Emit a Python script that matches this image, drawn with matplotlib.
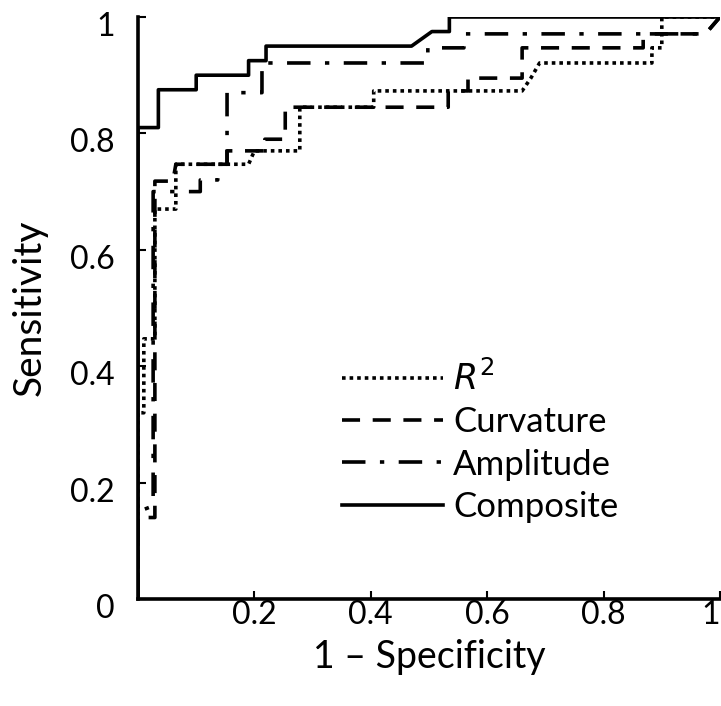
import matplotlib
matplotlib.use("Agg")
import matplotlib.pyplot as plt
from matplotlib.transforms import ScaledTranslation

# ROC curves (1 - specificity, sensitivity)
r2_x = [0, 0, 0.01, 0.01, 0.029, 0.029, 0.065, 0.065, 0.19, 0.2, 0.278, 0.278, 0.405, 0.405,
        0.66, 0.675, 0.69, 0.883, 0.883, 0.9, 0.9, 1]
r2_y = [0, 0.32, 0.32, 0.447, 0.447, 0.67, 0.67, 0.747, 0.747, 0.77, 0.77, 0.845, 0.845, 0.873,
        0.873, 0.895, 0.921, 0.921, 0.947, 0.947, 1, 1]

curv_x = [0, 0, 0.029, 0.029, 0.06, 0.065, 0.153, 0.153, 0.218, 0.218, 0.253, 0.253, 0.533,
          0.533, 0.567, 0.567, 0.66, 0.66, 0.868, 0.868, 0.975, 1]
curv_y = [0, 0.14, 0.14, 0.718, 0.718, 0.747, 0.747, 0.77, 0.77, 0.79, 0.79, 0.845, 0.845,
          0.873, 0.873, 0.895, 0.895, 0.947, 0.947, 0.971, 0.971, 1]

amp_x = [0, 0, 0.026, 0.026, 0.107, 0.107, 0.137, 0.137, 0.153, 0.153, 0.213, 0.213, 0.498,
         0.498, 0.56, 0.56, 0.975, 1]
amp_y = [0, 0.15, 0.16, 0.70, 0.70, 0.72, 0.72, 0.747, 0.747, 0.87, 0.87, 0.921, 0.921,
         0.947, 0.947, 0.971, 0.971, 1]

comp_x = [0, 0, 0.035, 0.035, 0.10, 0.10, 0.19, 0.19, 0.22, 0.22, 0.47, 0.505, 0.535, 0.535, 1]
comp_y = [0, 0.81, 0.81, 0.875, 0.875, 0.90, 0.90, 0.925, 0.925, 0.95, 0.95, 0.975, 0.975, 1, 1]

ticks = [0.2, 0.4, 0.6, 0.8, 1]
tick_labels = ["0.2", "0.4", "0.6", "0.8", "1"]
yticks = [0, 0.2, 0.4, 0.6, 0.8, 1]
ytick_labels = ["0", "0.2", "0.4", "0.6", "0.8", "1"]

plt.rcParams["font.family"] = ["Lato", "DejaVu Sans"]

fig = plt.figure(figsize=(7.21, 7.06), dpi=100)
ax = fig.add_axes([138 / 721, 107 / 706, 582 / 721, 582 / 706])

lw = 2.6
ax.plot(r2_x, r2_y, color="black", lw=lw, linestyle=(0, (1, 1.1)), label="$R^2$")
ax.plot(curv_x, curv_y, color="black", lw=lw, linestyle=(0, (5, 3.5)), label="Curvature")
ax.plot(amp_x, amp_y, color="black", lw=lw, linestyle=(0, (6.5, 4, 1.2, 4)), label="Amplitude")
ax.plot(comp_x, comp_y, color="black", lw=lw, label="Composite")

ax.set_xlim(0, 1)
ax.set_ylim(0, 1)
for side in ["top", "right"]:
    ax.spines[side].set_visible(False)
for side in ["left", "bottom"]:
    ax.spines[side].set_linewidth(2.6)

ax.set_xticks(ticks)
ax.set_xticklabels(tick_labels)
ax.set_yticks(yticks)
ax.set_yticklabels(ytick_labels)
ax.tick_params(direction="in", length=6, width=1.5, labelsize=23)
ax.tick_params(axis="x", pad=1)
ax.tick_params(axis="y", pad=17)
# excel-style labels sit a little below their ticks
shift = ScaledTranslation(0, -7 / 100, fig.dpi_scale_trans)
for lab in ax.get_yticklabels():
    lab.set_transform(lab.get_transform() + shift)
ax.get_xticklabels()[-1].set_horizontalalignment("right")

ax.set_xlabel("1 \u2013 Specificity", fontsize=27, labelpad=6)
ax.set_ylabel("Sensitivity", fontsize=28, labelpad=16)

ax.legend(loc="center left", bbox_to_anchor=(311 / 721, 0.375), bbox_transform=fig.transFigure,
          frameon=False, fontsize=25, handlelength=2.9, handletextpad=0.3, labelspacing=0.3)

fig.savefig("out.png", dpi=100)
